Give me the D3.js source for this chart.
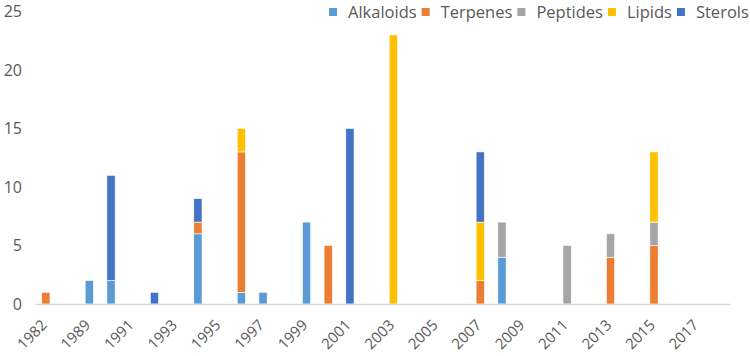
<html>
  <head>
    <style>
      body { margin: 0; background: #fff; }
      text { font-family: "Open Sans", sans-serif; fill: #595959; }
    </style>
  </head>
  <body>
    <svg id="chart" width="750" height="356"></svg>
    <script src="https://cdn.jsdelivr.net/npm/d3@7"></script>
    <script>
      let years = [1982, 1988, 1989, 1990, 1991, 1992, 1993, 1994, 1995, 1996, 1997, 1998, 1999, 2000, 2001, 2002,
                   2003, 2004, 2005, 2006, 2007, 2008, 2009, 2010, 2011, 2012, 2013, 2014, 2015, 2016, 2017, 2018];
      let tickYears = [1982, 1989, 1991, 1993, 1995, 1997, 1999, 2001, 2003, 2005, 2007, 2009, 2011, 2013, 2015, 2017];
      let yTicks = [0, 5, 10, 15, 20, 25];

      let alkaloids = [0,0,2,2,0,0,0,6,0,1,1,0,7,0,0,0,0,0,0,0,0,4,0,0,0,0,0,0,0,0,0,0];
      let terpenes  = [1,0,0,0,0,0,0,1,0,12,0,0,0,5,0,0,0,0,0,0,2,0,0,0,0,0,4,0,5,0,0,0];
      let peptides  = [0,0,0,0,0,0,0,0,0,0,0,0,0,0,0,0,0,0,0,0,0,3,0,0,5,0,2,0,2,0,0,0];
      let lipids    = [0,0,0,0,0,0,0,0,0,2,0,0,0,0,0,0,23,0,0,0,5,0,0,0,0,0,0,0,6,0,0,0];
      let sterols   = [0,0,0,9,0,1,0,2,0,0,0,0,0,0,15,0,0,0,0,0,6,0,0,0,0,0,0,0,0,0,0,0];

      let seriesNames = ["Alkaloids", "Terpenes", "Peptides", "Lipids", "Sterols"];
      let colors = ["#5B9BD5", "#ED7D31", "#A5A5A5", "#FFC000", "#4472C4"];

      let svg = d3.select("#chart");

      // one row per year for d3.stack
      let rows = years.map((y, i) => ({
        year: y,
        Alkaloids: alkaloids[i],
        Terpenes: terpenes[i],
        Peptides: peptides[i],
        Lipids: lipids[i],
        Sterols: sterols[i]
      }));
      let stacked = d3.stack().keys(seriesNames)(rows);

      let x = d3.scaleBand().domain(years).range([35, 730]).paddingInner(0.62).paddingOuter(0.31);
      let y = d3.scaleLinear().domain([0, 25]).range([304, 11.5]);
      let color = d3.scaleOrdinal().domain(seriesNames).range(colors);

      // bars
      svg.append("g")
        .selectAll("g")
        .data(stacked)
        .enter()
        .append("g")
        .attr("fill", (d) => color(d.key))
        .selectAll("rect")
        .data((d) => d.filter((p) => p[1] > p[0]))
        .enter()
        .append("rect")
        .attr("x", (d) => x(d.data.year))
        .attr("width", x.bandwidth())
        .attr("y", (d) => y(d[1]))
        .attr("height", (d) => y(d[0]) - y(d[1]))
        .attr("stroke", "#fff")
        .attr("stroke-width", 0.6);

      // x axis
      let xAxis = svg.append("g")
        .attr("transform", "translate(0,304)")
        .call(d3.axisBottom(x).tickValues(tickYears).tickSize(0).tickSizeOuter(0));
      xAxis.select(".domain").attr("stroke", "#D9D9D9").attr("stroke-width", 1.3);
      xAxis.selectAll("text")
        .attr("x", 0)
        .attr("y", 0)
        .attr("dy", 0)
        .attr("text-anchor", "end")
        .attr("transform", "translate(2,22) rotate(-45)")
        .style("font-size", "15px")
        .style("fill", "#595959");

      // y axis
      let yAxis = svg.append("g")
        .attr("transform", "translate(35,0)")
        .call(d3.axisLeft(y).tickValues(yTicks).tickSize(0).tickPadding(13));
      yAxis.select(".domain").remove();
      yAxis.selectAll("text")
        .style("font-size", "16px")
        .style("fill", "#595959");

      // legend
      let legend = svg.append("g").attr("transform", "translate(329,12)");
      let lx = 0;
      seriesNames.forEach((name) => {
        let item = legend.append("g").attr("transform", "translate(" + lx + ",0)");
        item.append("rect")
          .attr("x", 0)
          .attr("y", -4)
          .attr("width", 8)
          .attr("height", 8)
          .attr("fill", color(name));
        let t = item.append("text")
          .attr("x", 19)
          .attr("dy", "0.35em")
          .style("font-size", "16.5px")
          .text(name);
        lx += 19 + t.node().getComputedTextLength() + 5;
      });
    </script>
  </body>
</html>
